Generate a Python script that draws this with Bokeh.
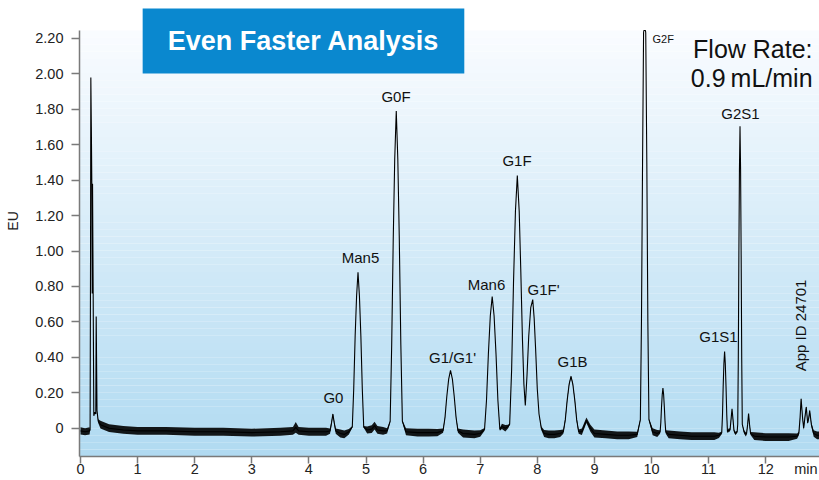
import numpy as np
from bokeh.plotting import figure
from bokeh.models import FixedTicker, Label, Range1d
from bokeh.embed import file_html
from bokeh.resources import INLINE

# ---- chromatogram trace (time in min, signal in EU) ----
time = [
    0.00, 0.08, 0.16,
    0.168, 0.176, 0.181, 0.19, 0.198, 0.205, 0.211, 0.222, 0.233, 0.25, 0.268, 0.275, 0.289, 0.31,
    0.35, 0.5, 0.75, 1.0, 1.5, 2.0, 2.5, 3.0, 3.5, 3.72, 3.77, 3.82, 4.0, 4.3,
    4.37, 4.396, 4.42, 4.444, 4.47,
    4.55, 4.62, 4.70,
    4.76, 4.785, 4.81, 4.835, 4.86, 4.885, 4.91, 4.935, 4.96,
    5.02, 5.1, 5.15, 5.2, 5.3, 5.37,
    5.423, 5.45, 5.477, 5.503, 5.53, 5.557, 5.583, 5.61, 5.637,
    5.70, 5.9, 6.1, 6.25,
    6.35, 6.383, 6.415, 6.448, 6.48, 6.513, 6.545, 6.578, 6.61,
    6.7, 6.9, 7.0,
    7.076, 7.11, 7.143, 7.177, 7.21, 7.243, 7.277, 7.31, 7.344,
    7.38, 7.44, 7.49,
    7.516, 7.55, 7.583, 7.617, 7.65, 7.683, 7.71, 7.74, 7.765, 7.79,
    7.82, 7.85, 7.885, 7.92, 7.945, 7.97, 8.0, 8.03, 8.07,
    8.12, 8.2, 8.3, 8.4,
    8.456, 8.49, 8.523, 8.557, 8.59, 8.623, 8.657, 8.69, 8.724,
    8.78, 8.86, 8.93, 9.0, 9.2, 9.4, 9.6, 9.75,
    9.805, 9.824, 9.843, 9.861, 9.866, 9.894, 9.899, 9.918, 9.936, 9.955,
    10.02, 10.1,
    10.15, 10.163, 10.175, 10.188, 10.2, 10.212, 10.225, 10.238, 10.25,
    10.3, 10.5, 10.7, 10.9, 11.1, 11.18,
    11.23, 11.243, 11.255, 11.268, 11.28, 11.292, 11.305, 11.318, 11.33,
    11.355,
    11.375, 11.393, 11.41, 11.427, 11.445,
    11.47, 11.5,
    11.51, 11.52, 11.53, 11.54, 11.55, 11.56, 11.57, 11.58, 11.59,
    11.62, 11.65,
    11.665, 11.683, 11.70, 11.717, 11.735,
    11.8, 12.0, 12.2, 12.4, 12.55,
    12.58, 12.60, 12.62, 12.645, 12.665, 12.69, 12.71, 12.735, 12.755, 12.77, 12.80, 12.84, 12.9, 12.95,
]
eu = [
    -0.015, -0.02, -0.015,
    -0.01, 1.00, 1.98, 1.70, 1.39, 0.76, 1.38, 0.76, 0.07, 0.09, 0.08, 0.63, 0.10, 0.04,
    0.02, 0.0, -0.01, -0.015, -0.015, -0.02, -0.02, -0.025, -0.02, -0.015, 0.005, -0.015, -0.02, -0.02,
    -0.016, 0.03, 0.08, 0.03, -0.016,
    -0.03, -0.035, -0.02,
    0.007, 0.223, 0.52, 0.745, 0.88, 0.745, 0.52, 0.223, 0.007,
    -0.01, -0.005, 0.015, -0.01, -0.015, -0.015,
    0.039, 0.472, 1.068, 1.519, 1.79, 1.519, 1.068, 0.472, 0.039,
    -0.02, -0.025, -0.025, -0.025,
    -0.014, 0.059, 0.179, 0.277, 0.326, 0.277, 0.179, 0.059, -0.014,
    -0.03, -0.035, -0.03,
    -0.007, 0.156, 0.418, 0.635, 0.743, 0.635, 0.418, 0.156, -0.007,
    0.01, 0.0, 0.01,
    0.023, 0.327, 0.819, 1.224, 1.426, 1.224, 0.90, 0.50, 0.25, 0.128,
    0.30, 0.52, 0.68, 0.726, 0.62, 0.45, 0.22, 0.08, 0.0,
    -0.03, -0.035, -0.035, -0.03,
    -0.02, 0.047, 0.157, 0.247, 0.292, 0.247, 0.157, 0.047, -0.02,
    -0.02, 0.045, 0.0, -0.03, -0.035, -0.04, -0.04, -0.035,
    0.049, 0.601, 1.495, 2.232, 2.245, 2.245, 2.232, 1.495, 0.601, 0.049,
    -0.02, -0.03,
    -0.022, 0.031, 0.118, 0.19, 0.226, 0.19, 0.118, 0.031, -0.022,
    -0.035, -0.04, -0.045, -0.045, -0.045, -0.04,
    -0.026, 0.074, 0.234, 0.367, 0.433, 0.367, 0.234, 0.074, -0.02,
    -0.01,
    -0.01, 0.05, 0.11, 0.05, -0.015,
    -0.03, -0.02,
    0.022, 0.386, 0.976, 1.462, 1.705, 1.462, 0.976, 0.386, 0.022,
    -0.02, -0.035,
    -0.03, 0.02, 0.083, 0.02, -0.03,
    -0.045, -0.05, -0.05, -0.05, -0.045,
    -0.03, 0.05, 0.166, 0.06, 0.0, 0.07, 0.12, 0.03, 0.06, 0.10, 0.02, -0.03, -0.04, -0.04,
]
# half-thickness of the noisy baseline band
noise = [
    0.02, 0.02, 0.02,
    0, 0, 0, 0, 0, 0, 0, 0, 0, 0, 0, 0, 0, 0.01,
    0.022, 0.022, 0.022, 0.022, 0.022, 0.022, 0.022, 0.022, 0.022, 0.022, 0.03, 0.022, 0.022, 0.022,
    0.015, 0.01, 0.005, 0.01, 0.015,
    0.022, 0.022, 0.015,
    0.005, 0, 0, 0, 0, 0, 0, 0, 0.005,
    0.02, 0.022, 0.022, 0.022, 0.022, 0.015,
    0.005, 0, 0, 0, 0, 0, 0, 0, 0.005,
    0.02, 0.022, 0.022, 0.02,
    0.012, 0.006, 0, 0, 0, 0, 0, 0.006, 0.012,
    0.022, 0.022, 0.018,
    0.008, 0, 0, 0, 0, 0, 0, 0, 0.008,
    0.015, 0.018, 0.01,
    0.005, 0, 0, 0, 0, 0, 0, 0, 0, 0,
    0, 0, 0, 0, 0, 0, 0, 0, 0.01,
    0.02, 0.022, 0.022, 0.02,
    0.012, 0.01, 0.008, 0.006, 0.005, 0.006, 0.008, 0.01, 0.012,
    0.018, 0.015, 0.02, 0.022, 0.022, 0.022, 0.022, 0.015,
    0.005, 0, 0, 0, 0, 0, 0, 0, 0, 0.005,
    0.02, 0.02,
    0.01, 0.005, 0, 0, 0, 0, 0, 0.005, 0.01,
    0.022, 0.022, 0.022, 0.022, 0.022, 0.015,
    0.008, 0.004, 0, 0, 0, 0, 0, 0.004, 0.008,
    0.01,
    0.008, 0.005, 0, 0.005, 0.008,
    0.01, 0.005,
    0, 0, 0, 0, 0, 0, 0, 0, 0,
    0.01, 0.012,
    0.008, 0.005, 0, 0.005, 0.008,
    0.022, 0.022, 0.022, 0.022, 0.015,
    0.01, 0.008, 0.005, 0.008, 0.01, 0.008, 0.005, 0.008, 0.008, 0.005, 0.01, 0.018, 0.022, 0.022,
]

# ---- axes ----
x_ticks = [0, 1, 2, 3, 4, 5, 6, 7, 8, 9, 10, 11, 12]
x_tick_labels = ["0", "1", "2", "3", "4", "5", "6", "7", "8", "9", "10", "11", "12"]
y_ticks = [0, 0.2, 0.4, 0.6, 0.8, 1.0, 1.2, 1.4, 1.6, 1.8, 2.0, 2.2]
y_tick_labels = ["0", "0.20", "0.40", "0.60", "0.80", "1.00", "1.20", "1.40", "1.60", "1.80", "2.00", "2.20"]

# ---- peak annotations ----
peak_names = ["G0", "Man5", "G0F", "G1/G1'", "Man6", "G1F", "G1F'", "G1B", "G1S1", "G2S1"]
peak_label_time = [4.43, 4.904, 5.525, 6.515, 7.11, 7.645, 8.109, 8.616, 11.173, 11.559]
peak_label_eu = [0.175, 0.965, 1.87, 0.397, 0.81, 1.51, 0.785, 0.376, 0.518, 1.777]

# plotted area (axes extent) and the whole canvas in data units
X0, X1 = -0.0175, 12.942
Y0, Y1 = -0.16, 2.245
CX0, CY0, CY1 = -1.401, -0.2952, 2.4143
FONT = "Liberation Sans"

p = figure(width=819, height=480, output_backend="svg", toolbar_location=None,
           x_range=Range1d(CX0, X1), y_range=Range1d(CY0, CY1),
           min_border_left=0, min_border_right=0, min_border_top=0, min_border_bottom=0)
p.outline_line_color = None
p.grid.visible = False
p.background_fill_color = "white"
p.border_fill_color = "white"

# vertical gradient background inside the axes
n_bands = 60
edges = np.linspace(Y0, Y1, n_bands + 1)
bottom_rgb = np.array([176, 218, 241])
top_rgb = np.array([250, 252, 255])
cols = []
for i in range(n_bands):
    f = (i + 0.5) / n_bands
    c = bottom_rgb + (top_rgb - bottom_rgb) * f
    cols.append("#%02x%02x%02x" % tuple(int(round(v)) for v in c))
p.quad(left=X0, right=X1, bottom=edges[:-1], top=edges[1:], fill_color=cols, line_color=None)

# trace
t_arr = np.array(time)
e_arr = np.array(eu)
n_arr = np.array(noise)
p.varea(x=t_arr, y1=e_arr - n_arr, y2=e_arr + n_arr, fill_color="black", fill_alpha=0.9)
p.line(t_arr, e_arr, line_color="black", line_width=1.1)

# axes styling
for ax in (p.xaxis[0], p.yaxis[0]):
    ax.axis_line_color = "#7a7a7a"
    ax.axis_line_width = 1.5
    ax.major_tick_line_color = "#7a7a7a"
    ax.major_tick_line_width = 1.5
    ax.major_tick_in = 0
    ax.minor_tick_in = 0
    ax.minor_tick_out = 0
    ax.major_label_text_font = FONT
    ax.major_label_text_font_size = "14.5px"
    ax.major_label_text_color = "#222222"
p.xaxis.ticker = FixedTicker(ticks=x_ticks)
p.xaxis.major_label_overrides = dict(zip(x_ticks, x_tick_labels))
p.xaxis.major_tick_out = 7
p.xaxis.major_label_standoff = 0
p.xaxis.fixed_location = Y0
p.xaxis.bounds = (X0, X1)
p.yaxis.ticker = FixedTicker(ticks=y_ticks)
p.yaxis.major_label_overrides = dict(zip(y_ticks, y_tick_labels))
p.yaxis.major_tick_out = 8
p.yaxis.major_label_standoff = 8
p.yaxis.fixed_location = X0
p.yaxis.bounds = (Y0, Y1)

# axis titles
p.add_layout(Label(x=-1.19, y=1.17, text="EU", angle=np.pi / 2, text_align="center",
                   text_baseline="middle", text_font=FONT, text_font_size="14px",
                   text_color="#222222"))
p.add_layout(Label(x=12.50, y=-0.23, text="min", text_align="left",
                   text_baseline="alphabetic", text_font=FONT, text_font_size="14.5px",
                   text_color="#222222"))

# peak labels
for name, tx, ty in zip(peak_names, peak_label_time, peak_label_eu):
    p.add_layout(Label(x=tx, y=ty, text=name, text_align="center", text_baseline="alphabetic",
                       text_font=FONT, text_font_size="15px", text_color="#111111"))
p.add_layout(Label(x=10.018, y=2.195, text="G2F", text_align="left", text_baseline="alphabetic",
                   text_font=FONT, text_font_size="11px", text_color="#111111"))

# flow rate note
p.add_layout(Label(x=12.82, y=2.143, text="Flow Rate:", text_align="right",
                   text_baseline="alphabetic", text_font=FONT, text_font_size="25px",
                   text_color="#111111"))
p.add_layout(Label(x=12.82, y=1.979, text="0.9\u2009mL/min", text_align="right",
                   text_baseline="alphabetic", text_font=FONT, text_font_size="25px",
                   text_color="#111111"))

# app id
p.add_layout(Label(x=12.61, y=0.58, text="App ID 24701", angle=np.pi / 2, text_align="center",
                   text_baseline="middle", text_font=FONT, text_font_size="15px",
                   text_color="#111111"))

# title box
p.add_layout(Label(x=3.905, y=2.186, text="Even Faster Analysis", text_align="center",
                   text_baseline="middle", text_font=FONT, text_font_size="27px",
                   text_font_style="bold", text_color="white",
                   background_fill_color="#0a88cf",
                   padding=dict(left=25, right=25, top=18, bottom=17)))

open("out.html", "w").write(file_html(p, INLINE))
